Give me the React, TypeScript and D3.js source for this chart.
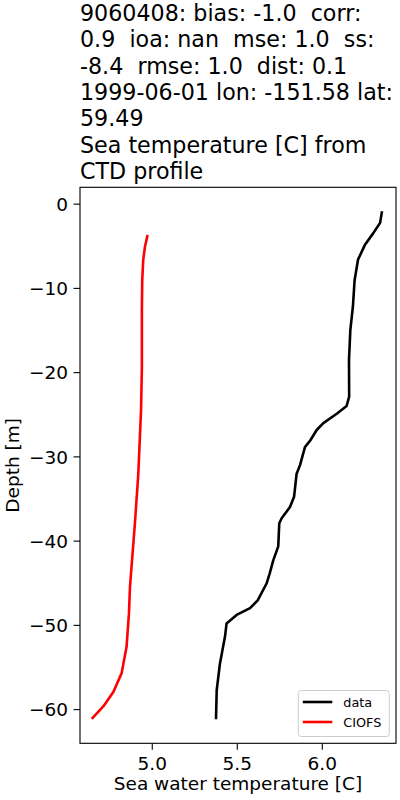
import React from "react";
import * as d3 from "d3";

const titleLines = [
  "9060408: bias: -1.0  corr:",
  "0.9  ioa: nan  mse: 1.0  ss:",
  "-8.4  rmse: 1.0  dist: 0.1",
  "1999-06-01 lon: -151.58 lat:",
  "59.49",
  "Sea temperature [C] from",
  "CTD profile",
];

const dataDepth = [
  -1.0, -2.22, -3.44, -4.86, -6.59, -9.03, -12.18, -14.92, -18.48, -22.85,
  -23.96, -24.88, -26.0, -26.81, -28.03, -28.84, -30.98, -32.0, -34.74, -35.96,
  -37.28, -37.88, -40.63, -42.26, -43.88, -45.0, -47.03, -47.95, -48.76, -49.78,
  -51.3, -54.55, -57.7, -61.0,
];
const dataTemp = [
  6.35, 6.34, 6.3, 6.25, 6.21, 6.19, 6.18, 6.165, 6.157, 6.158, 6.143, 6.085,
  6.006, 5.967, 5.93, 5.898, 5.869, 5.849, 5.834, 5.81, 5.761, 5.747, 5.741,
  5.712, 5.69, 5.673, 5.62, 5.575, 5.496, 5.437, 5.428, 5.398, 5.379, 5.375,
];

const modelDepth = [
  -3.8, -5.06, -6.59, -9.03, -12.58, -19.29, -24.47, -29.15, -32.0, -37.88,
  -45.4, -48.55, -52.52, -55.67, -57.9, -59.63, -61.0,
];
const modelTemp = [
  4.971, 4.957, 4.947, 4.941, 4.939, 4.939, 4.934, 4.924, 4.918, 4.898, 4.869,
  4.863, 4.849, 4.82, 4.771, 4.712, 4.649,
];

const xTicks = [5.0, 5.5, 6.0];
const yTicks = [0, -10, -20, -30, -40, -50, -60];

const legendItems = [
  { label: "data", color: "#000000" },
  { label: "CIOFS", color: "#ff0000" },
];

const FONT = "DejaVu Sans, sans-serif";

export default function App() {
  const left = 80,
    right = 396,
    top = 187.3,
    bottom = 743.3;
  const x = d3.scaleLinear().domain([4.575, 6.4335]).range([left, right]);
  const y = d3.scaleLinear().domain([-64, 2]).range([bottom, top]);

  const line = d3
    .line<[number, number]>()
    .x((d) => x(d[0]))
    .y((d) => y(d[1]))
    .curve(d3.curveLinear);

  const dataPts: [number, number][] = dataTemp.map((t, i) => [t, dataDepth[i]]);
  const modelPts: [number, number][] = modelTemp.map((t, i) => [t, modelDepth[i]]);

  const fmtY = (v: number) => (v < 0 ? "\u2212" + Math.abs(v) : String(v));

  const lgLeft = 298.3,
    lgTop = 690.5,
    lgW = 91,
    lgH = 46;

  return (
    <svg
      width={400}
      height={800}
      style={{ position: "absolute", left: 0, top: 0, background: "#fff" }}
      fontFamily={FONT}
    >
      <rect x={0} y={0} width={400} height={800} fill="#fff" />
      {titleLines.map((t, i) => (
        <text
          key={i}
          x={80}
          y={21 + i * 26.3}
          fontSize={22.2}
          fill="#000"
          style={{ whiteSpace: "pre" }}
        >
          {t}
        </text>
      ))}

      <clipPath id="clip">
        <rect x={left} y={top} width={right - left} height={bottom - top} />
      </clipPath>
      <g clipPath="url(#clip)">
        <path d={line(dataPts) || ""} fill="none" stroke="#000" strokeWidth={2.6} strokeLinejoin="round" strokeLinecap="square" />
        <path d={line(modelPts) || ""} fill="none" stroke="#ff0000" strokeWidth={2.6} strokeLinejoin="round" strokeLinecap="square" />
      </g>

      <rect x={left} y={top} width={right - left} height={bottom - top} fill="none" stroke="#000" strokeWidth={1.1} />

      {xTicks.map((t) => (
        <g key={t}>
          <line x1={x(t)} x2={x(t)} y1={bottom} y2={bottom + 6.5} stroke="#000" strokeWidth={1.1} />
          <text x={x(t)} y={bottom + 26.5} fontSize={18.5} textAnchor="middle" fill="#000">
            {t.toFixed(1)}
          </text>
        </g>
      ))}
      {yTicks.map((t) => (
        <g key={t}>
          <line x1={left - 6.5} x2={left} y1={y(t)} y2={y(t)} stroke="#000" strokeWidth={1.1} />
          <text x={left - 12} y={y(t) + 6.7} fontSize={18.5} textAnchor="end" fill="#000">
            {fmtY(t)}
          </text>
        </g>
      ))}

      <text x={(left + right) / 2} y={790} fontSize={18.5} textAnchor="middle" fill="#000">
        Sea water temperature [C]
      </text>
      <text
        transform={`translate(19,${(top + bottom) / 2}) rotate(-90)`}
        fontSize={18.5}
        textAnchor="middle"
        fill="#000"
      >
        Depth [m]
      </text>

      <rect x={lgLeft} y={lgTop} width={lgW} height={lgH} rx={3} fill="#fff" fillOpacity={0.8} stroke="#cccccc" strokeWidth={1} />
      {legendItems.map((it, i) => {
        const cy = lgTop + 11.5 + i * 20;
        return (
          <g key={it.label}>
            <line x1={lgLeft + 4.5} x2={lgLeft + 34} y1={cy} y2={cy} stroke={it.color} strokeWidth={2.6} />
            <text x={lgLeft + 45} y={cy + 4.6} fontSize={12.8} fill="#000">
              {it.label}
            </text>
          </g>
        );
      })}
    </svg>
  );
}
